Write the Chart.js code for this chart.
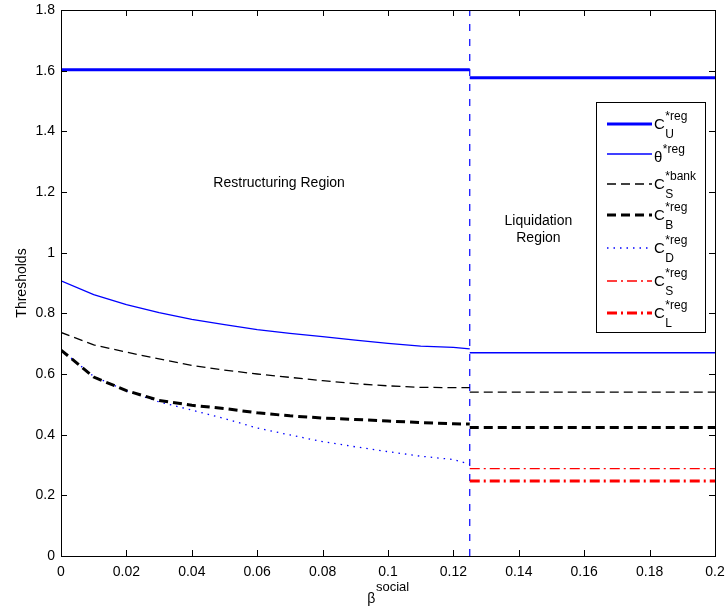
<!DOCTYPE html>
<html>
<head>
<meta charset="utf-8">
<script src="https://cdn.jsdelivr.net/npm/chart.js@4.4.0/dist/chart.umd.min.js"></script>
<style>
  body { margin: 0; background: #fff; }
  canvas { display: block; }
</style>
</head>
<body>
<canvas id="graphThr" width="725" height="610"></canvas>
<script>
//---------dados

var betaLeft = [0, 0.01, 0.02, 0.03, 0.04, 0.05, 0.06, 0.07, 0.08, 0.09, 0.1, 0.11, 0.12, 0.125];
var betaSpanLeft = [0, 0.125];
var betaSpanRight = [0.125, 0.2];
var betaCut = 0.125;

var cuRegLeft = [1.603, 1.603];
var cuRegRight = [1.577, 1.577];
var thetaRegLeft = [0.907, 0.862, 0.829, 0.802, 0.780, 0.763, 0.746, 0.734, 0.723, 0.712, 0.701, 0.692, 0.688, 0.683];
var thetaRegRight = [0.670, 0.670];
var csBankLeft = [0.737, 0.696, 0.672, 0.650, 0.628, 0.613, 0.600, 0.589, 0.578, 0.568, 0.561, 0.556, 0.555, 0.555];
var csBankRight = [0.540, 0.540];
var cbRegLeft = [0.679, 0.590, 0.545, 0.513, 0.497, 0.486, 0.472, 0.462, 0.455, 0.450, 0.445, 0.440, 0.436, 0.435];
var cbRegRight = [0.424, 0.424];
var cdRegLeft = [0.680, 0.592, 0.545, 0.508, 0.481, 0.453, 0.422, 0.399, 0.377, 0.360, 0.344, 0.329, 0.318, 0.303];
var csRegRight = [0.288, 0.288];
var clRegRight = [0.247, 0.247];

var xTicks = [0, 0.02, 0.04, 0.06, 0.08, 0.1, 0.12, 0.14, 0.16, 0.18, 0.2];
var yTicks = [0, 0.2, 0.4, 0.6, 0.8, 1, 1.2, 1.4, 1.6, 1.8];

var legendNames = [
  { base: 'C', sup: '*reg', sub: 'U' },
  { base: 'θ', sup: '*reg', sub: '' },
  { base: 'C', sup: '*bank', sub: 'S' },
  { base: 'C', sup: '*reg', sub: 'B' },
  { base: 'C', sup: '*reg', sub: 'D' },
  { base: 'C', sup: '*reg', sub: 'S' },
  { base: 'C', sup: '*reg', sub: 'L' }
];

//---------monta os pontos (quebra em beta = 0.125)

function pts(xs, ys) {
  return xs.map(function (x, i) { return { x: x, y: ys[i] }; });
}

function twoParts(xa, ya, xb, yb) {
  var out = [];
  if (xa) out = out.concat(pts(xa, ya));
  if (xa && xb) out.push({ x: betaCut, y: null });
  if (xb) out = out.concat(pts(xb, yb));
  return out;
}

var FONT = "'Liberation Sans', Arial, Helvetica, sans-serif";
Chart.defaults.font.family = FONT;
Chart.defaults.font.size = 14;
Chart.defaults.color = '#000';

function line(data, color, width, dash) {
  return {
    data: data,
    borderColor: color,
    borderWidth: width,
    borderDash: dash,
    pointRadius: 0,
    fill: false,
    tension: 0,
    spanGaps: false
  };
}

var datasets = [
  line(twoParts(betaSpanLeft, cuRegLeft, betaSpanRight, cuRegRight), '#0000ff', 3, []),
  line(twoParts(betaLeft, thetaRegLeft, betaSpanRight, thetaRegRight), '#0000ff', 1.3, []),
  line(twoParts(betaLeft, csBankLeft, betaSpanRight, csBankRight), '#000000', 1.3, [9, 5]),
  line(twoParts(betaLeft, cbRegLeft, betaSpanRight, cbRegRight), '#000000', 3, [9, 5]),
  line(twoParts(betaLeft, cdRegLeft, null, null), '#0000ff', 1.3, [1.5, 5]),
  line(twoParts(null, null, betaSpanRight, csRegRight), '#ff0000', 1.3, [10, 4, 2, 4]),
  line(twoParts(null, null, betaSpanRight, clRegRight), '#ff0000', 3, [10, 4, 2, 4]),
  line(pts([betaCut, betaCut], [0, 1.8]), '#0000ff', 1.2, [7, 8])
];

//---------moldura, textos e legenda

var moldura = {
  id: 'moldura',
  afterDraw: function (chart) {
    var ctx = chart.ctx;
    var a = chart.chartArea;
    var xs = chart.scales.x, ys = chart.scales.y;
    ctx.save();
    ctx.strokeStyle = '#000';
    ctx.lineWidth = 1;
    ctx.setLineDash([]);
    ctx.strokeRect(Math.round(a.left) + 0.5, Math.round(a.top) + 0.5,
      Math.round(a.right - a.left), Math.round(a.bottom - a.top));

    // ticks para dentro, nos quatro lados
    ctx.beginPath();
    xTicks.forEach(function (v) {
      var px = Math.round(xs.getPixelForValue(v)) + 0.5;
      ctx.moveTo(px, a.bottom); ctx.lineTo(px, a.bottom - 6);
      ctx.moveTo(px, a.top); ctx.lineTo(px, a.top + 6);
    });
    yTicks.forEach(function (v) {
      var py = Math.round(ys.getPixelForValue(v)) + 0.5;
      ctx.moveTo(a.left, py); ctx.lineTo(a.left + 6, py);
      ctx.moveTo(a.right, py); ctx.lineTo(a.right - 6, py);
    });
    ctx.stroke();

    // textos das regiões
    ctx.fillStyle = '#000';
    ctx.font = '14px ' + FONT;
    ctx.textAlign = 'center';
    ctx.textBaseline = 'middle';
    ctx.fillText('Restructuring Region', xs.getPixelForValue(0.0667), ys.getPixelForValue(1.23));
    ctx.fillText('Liquidation', xs.getPixelForValue(0.146), ys.getPixelForValue(1.104));
    ctx.fillText('Region', xs.getPixelForValue(0.146), ys.getPixelForValue(1.048));

    // titulo do eixo x: beta^social
    ctx.textBaseline = 'alphabetic';
    ctx.textAlign = 'left';
    ctx.font = '14px ' + FONT;
    var wB = ctx.measureText('β').width;
    ctx.font = '13px ' + FONT;
    var wS = ctx.measureText('social').width;
    var cx = (a.left + a.right) / 2 - (wB + wS) / 2;
    ctx.font = '14px ' + FONT;
    ctx.fillText('β', cx, 603);
    ctx.font = '13px ' + FONT;
    ctx.fillText('social', cx + wB + 0.5, 591);

    // legenda
    var L = 596, T = 102, R = 705, B = 332;
    ctx.fillStyle = '#fff';
    ctx.fillRect(L, T, R - L, B - T);
    ctx.strokeStyle = '#000';
    ctx.lineWidth = 1;
    ctx.strokeRect(L + 0.5, T + 0.5, R - L, B - T);
    var rows = [124, 154, 184, 215, 248, 281, 313];
    legendNames.forEach(function (n, i) {
      var ds = chart.data.datasets[i];
      var y = rows[i];
      ctx.strokeStyle = ds.borderColor;
      ctx.lineWidth = ds.borderWidth;
      ctx.setLineDash(ds.borderDash);
      ctx.beginPath();
      ctx.moveTo(607, y); ctx.lineTo(652, y);
      ctx.stroke();
      ctx.setLineDash([]);
      ctx.fillStyle = '#000';
      var baseY = n.sub ? y + 5 : y + 8;
      ctx.font = '15px ' + FONT;
      ctx.fillText(n.base, 654, baseY);
      var w = ctx.measureText(n.base).width;
      ctx.font = '12px ' + FONT;
      ctx.fillText(n.sup, 654 + w + 0.5, baseY - 9);
      if (n.sub) ctx.fillText(n.sub, 654 + w + 0.5, baseY + 9);
    });
    ctx.restore();
  }
};

var grafico = new Chart(document.getElementById('graphThr'), {
  type: 'line',
  data: { datasets: datasets },
  options: {
    responsive: false,
    animation: false,
    layout: { padding: { top: 10, right: 10, left: 0, bottom: 0 } },
    plugins: { legend: { display: false }, tooltip: { enabled: false } },
    scales: {
      x: {
        type: 'linear',
        min: 0,
        max: 0.2,
        grid: { display: false, drawTicks: false },
        border: { display: false },
        afterBuildTicks: function (s) { s.ticks = xTicks.map(function (v) { return { value: v }; }); },
        afterFit: function (s) { s.height = 54; s.paddingLeft = 0; s.paddingRight = 0; },
        ticks: {
          autoSkip: false,
          maxRotation: 0,
          padding: 8,
          color: '#000',
          callback: function (v) { return String(+v.toFixed(2)); }
        }
      },
      y: {
        type: 'linear',
        min: 0,
        max: 1.8,
        grid: { display: false, drawTicks: false },
        border: { display: false },
        afterBuildTicks: function (s) { s.ticks = yTicks.map(function (v) { return { value: v }; }); },
        afterFit: function (s) { s.width = 61; s.paddingTop = 0; s.paddingBottom = 0; },
        title: { display: true, text: 'Thresholds', color: '#000', font: { size: 14 }, padding: { top: 14, bottom: 0 } },
        ticks: {
          padding: 6,
          color: '#000',
          callback: function (v) { return String(+v.toFixed(1)); }
        }
      }
    }
  },
  plugins: [moldura]
});
</script>
</body>
</html>
